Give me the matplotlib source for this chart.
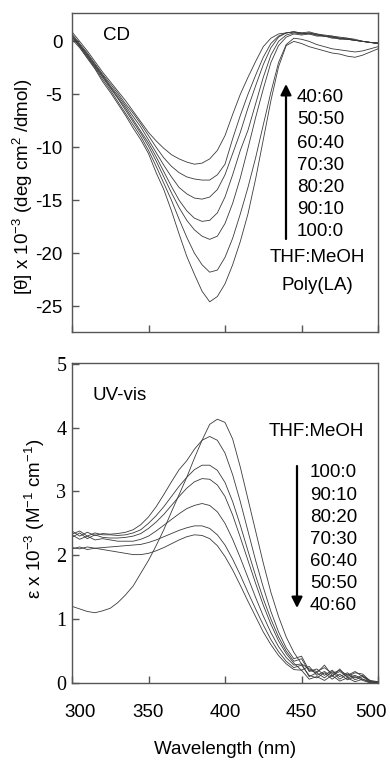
import matplotlib
matplotlib.use("Agg")
import matplotlib.pyplot as plt
import matplotlib.transforms as mtransforms

plt.rcParams['font.family'] = ['Liberation Sans', 'DejaVu Sans']
plt.rcParams['mathtext.fontset'] = 'custom'
plt.rcParams['mathtext.rm'] = 'Liberation Sans'
plt.rcParams['mathtext.it'] = 'Liberation Sans:italic'

# ---------------- data ----------------
wavelength = [300, 305, 310, 315, 320, 325, 330, 335, 340, 345, 350, 355, 360, 365, 370,
              375, 380, 385, 390, 395, 400, 405, 410, 415, 420, 425, 430, 435, 440, 445,
              450, 455, 460, 465, 470, 475, 480, 485, 490, 495, 500]

ratios = ["100:0", "90:10", "80:20", "70:30", "60:40", "50:50", "40:60"]

cd_100_0 = [0.2, -0.6, -1.6, -2.6, -3.8, -4.8, -5.9, -7.0, -8.2, -9.3,
            -10.6, -12.4, -14.0, -16.0, -18.2, -20.3, -22.0, -23.6, -24.6, -24.1,
            -22.9, -21.1, -18.9, -16.3, -13.0, -9.3, -5.6, -2.4, -0.4, 0.0,
            -0.2, -0.5, -0.7, -0.9, -1.1, -1.2, -1.4, -1.5, -1.3, -1.0, -0.7]
cd_90_10 = [0.4, -0.5, -1.5, -2.5, -3.6, -4.6, -5.7, -6.8, -7.9, -9.0,
            -10.3, -11.8, -13.4, -15.0, -16.8, -18.5, -20.0, -21.1, -21.8, -21.6,
            -20.4, -18.6, -16.3, -13.8, -11.0, -7.9, -4.8, -2.0, -0.3, 0.3,
            0.2, 0.0, -0.3, -0.5, -0.7, -0.8, -0.9, -1.0, -0.9, -0.7, -0.5]
cd_80_20 = [0.5, -0.4, -1.4, -2.4, -3.4, -4.4, -5.4, -6.5, -7.6, -8.7,
            -9.9, -11.3, -12.8, -14.3, -15.7, -16.9, -17.8, -18.4, -18.7, -18.4,
            -17.2, -15.3, -12.9, -10.1, -7.2, -4.5, -2.0, -0.4, 0.4, 0.7,
            0.6, 0.7, 0.5, 0.5, 0.4, 0.2, 0.2, 0.1, 0.0, -0.1, -0.2]
cd_70_30 = [0.4, -0.4, -1.3, -2.3, -3.3, -4.3, -5.3, -6.3, -7.4, -8.5,
            -9.6, -10.9, -12.3, -13.7, -15.0, -16.0, -16.7, -17.0, -16.9, -16.2,
            -14.7, -12.6, -10.3, -8.4, -5.9, -3.4, -1.3, 0.0, 0.6, 0.8,
            0.7, 0.8, 0.6, 0.5, 0.3, 0.3, 0.2, 0.1, 0.0, -0.1, -0.2]
cd_60_40 = [0.6, -0.3, -1.2, -2.2, -3.2, -4.2, -5.1, -6.1, -7.1, -8.1,
            -9.3, -10.5, -11.7, -12.8, -13.8, -14.4, -14.8, -14.9, -14.7, -14.0,
            -12.6, -10.6, -8.6, -6.3, -4.2, -2.2, -0.6, 0.4, 0.8, 0.9,
            0.7, 0.8, 0.6, 0.5, 0.5, 0.3, 0.2, 0.1, 0.0, -0.1, -0.2]
cd_50_50 = [0.7, -0.2, -1.1, -2.1, -3.1, -4.0, -4.9, -5.9, -6.8, -7.8,
            -8.9, -10.0, -11.0, -11.8, -12.4, -12.8, -13.0, -13.1, -13.1, -12.6,
            -11.6, -9.2, -7.0, -5.0, -3.2, -1.5, -0.2, 0.5, 0.8, 0.9,
            0.8, 0.7, 0.7, 0.5, 0.4, 0.3, 0.3, 0.1, 0.0, -0.1, -0.1]
cd_40_60 = [0.9, 0.0, -0.9, -1.9, -2.9, -3.8, -4.7, -5.6, -6.6, -7.6,
            -8.6, -9.4, -10.1, -10.7, -11.1, -11.4, -11.6, -11.5, -11.1, -10.3,
            -8.9, -6.9, -5.0, -3.4, -1.9, -0.5, 0.3, 0.7, 0.8, 0.9,
            0.8, 0.9, 0.7, 0.6, 0.5, 0.4, 0.3, 0.2, 0.0, -0.1, -0.2]

uv_100_0 = [1.20, 1.16, 1.12, 1.10, 1.13, 1.17, 1.26, 1.38, 1.52, 1.72,
            1.92, 2.15, 2.40, 2.68, 2.95, 3.22, 3.52, 3.80, 4.05, 4.13,
            4.08, 3.82, 3.38, 2.88, 2.38, 1.88, 1.42, 1.04, 0.72, 0.48,
            0.30, 0.22, 0.18, 0.24, 0.15, 0.20, 0.12, 0.18, 0.10, 0.04, 0.02]
uv_90_10 = [2.38, 2.30, 2.36, 2.31, 2.34, 2.33, 2.34, 2.36, 2.40, 2.48,
            2.60, 2.76, 2.95, 3.15, 3.34, 3.48, 3.66, 3.80, 3.86, 3.80,
            3.60, 3.26, 2.84, 2.38, 1.92, 1.50, 1.12, 0.80, 0.55, 0.38,
            0.42, 0.20, 0.16, 0.28, 0.12, 0.18, 0.10, 0.16, 0.14, 0.03, 0.02]
uv_80_20 = [2.33, 2.38, 2.30, 2.35, 2.32, 2.32, 2.31, 2.32, 2.35, 2.40,
            2.50, 2.62, 2.76, 2.92, 3.08, 3.22, 3.34, 3.41, 3.41, 3.33,
            3.14, 2.84, 2.47, 2.07, 1.68, 1.32, 1.00, 0.72, 0.50, 0.34,
            0.38, 0.18, 0.22, 0.12, 0.20, 0.10, 0.16, 0.08, 0.12, 0.02, 0.01]
uv_70_30 = [2.28, 2.35, 2.26, 2.32, 2.28, 2.27, 2.27, 2.28, 2.30, 2.34,
            2.42, 2.52, 2.64, 2.78, 2.92, 3.05, 3.15, 3.20, 3.19, 3.10,
            2.92, 2.63, 2.28, 1.92, 1.56, 1.22, 0.92, 0.66, 0.46, 0.31,
            0.20, 0.26, 0.12, 0.18, 0.10, 0.22, 0.08, 0.12, 0.06, 0.02, 0.00]
uv_60_40 = [2.32, 2.25, 2.30, 2.24, 2.26, 2.24, 2.22, 2.22, 2.22, 2.25,
            2.30, 2.38, 2.47, 2.56, 2.65, 2.73, 2.78, 2.81, 2.78, 2.68,
            2.50, 2.25, 1.96, 1.65, 1.34, 1.05, 0.79, 0.57, 0.40, 0.28,
            0.30, 0.10, 0.16, 0.08, 0.18, 0.06, 0.14, 0.05, 0.10, 0.01, 0.00]
uv_50_50 = [2.12, 2.10, 2.13, 2.11, 2.12, 2.13, 2.14, 2.15, 2.16, 2.17,
            2.20, 2.24, 2.29, 2.34, 2.39, 2.43, 2.46, 2.46, 2.42, 2.32,
            2.16, 1.94, 1.69, 1.42, 1.16, 0.91, 0.68, 0.49, 0.34, 0.24,
            0.28, 0.12, 0.08, 0.16, 0.06, 0.14, 0.05, 0.10, 0.04, 0.00, 0.00]
uv_40_60 = [2.10, 2.13, 2.09, 2.11, 2.09, 2.07, 2.05, 2.03, 2.01, 2.01,
            2.03, 2.07, 2.12, 2.18, 2.24, 2.29, 2.32, 2.31, 2.26, 2.15,
            1.98, 1.77, 1.53, 1.28, 1.04, 0.80, 0.60, 0.43, 0.30, 0.21,
            0.20, 0.06, 0.10, 0.04, 0.12, 0.03, 0.08, 0.02, 0.06, 0.00, 0.00]

cd_series = [cd_100_0, cd_90_10, cd_80_20, cd_70_30, cd_60_40, cd_50_50, cd_40_60]
uv_series = [uv_100_0, uv_90_10, uv_80_20, uv_70_30, uv_60_40, uv_50_50, uv_40_60]

cd_yticks = [0, -5, -10, -15, -20, -25]
uv_yticks = [0, 1, 2, 3, 4, 5]
x_ticks = [300, 350, 400, 450, 500]

# ---------------- figure ----------------
W, H = 390, 760
fig = plt.figure(figsize=(W / 100, H / 100), dpi=100)

def fx(px):
    return px / W

def fy(py):
    return 1 - py / H

line_color = '#3a3a3a'
spine_color = '#555555'
fs = 13.5

ax1 = fig.add_axes([fx(72), fy(332), fx(378) - fx(72), fy(13) - fy(332)])
ax2 = fig.add_axes([fx(72), fy(683), fx(378) - fx(72), fy(363) - fy(683)])

for s in cd_series:
    ax1.plot(wavelength, s, color=line_color, lw=0.6)
for s in uv_series:
    ax2.plot(wavelength, s, color=line_color, lw=0.6)

for ax in (ax1, ax2):
    ax.set_xlim(300, 500)
    ax.set_xticks(x_ticks)
    for sp in ax.spines.values():
        sp.set_color(spine_color)
        sp.set_linewidth(1.0)
    ax.tick_params(direction='in', length=5, width=1.0, color=spine_color,
                   labelsize=fs)

ax1.set_ylim(-27.45, 2.68)
ax1.set_yticks(cd_yticks)
ax1.set_yticklabels([str(v) for v in cd_yticks])
ax1.tick_params(axis='x', labelbottom=False)
ax1.tick_params(axis='y', pad=7)

ax2.set_ylim(0, 5.01)
ax2.set_yticks(uv_yticks)
ax2.set_yticklabels([str(v) for v in uv_yticks], fontfamily='Liberation Serif')
ax2.tick_params(axis='y', pad=4, labelsize=fs + 1)
ax2.tick_params(axis='x', pad=15)
ax2.set_xticklabels([str(v) for v in x_ticks])
# nudge the end labels inward as in the reference
xlabels = ax2.get_xticklabels()
xlabels[0].set_transform(xlabels[0].get_transform() +
                         mtransforms.ScaledTranslation(8 / 100, 0, fig.dpi_scale_trans))
xlabels[-1].set_transform(xlabels[-1].get_transform() +
                          mtransforms.ScaledTranslation(-7 / 100, 0, fig.dpi_scale_trans))

fig.text(fx(23), fy(187), r'[θ] x 10$^{-3}$ (deg cm$^{2}$ /dmol)', rotation=90,
         ha='center', va='center', fontsize=fs)
fig.text(fx(35), fy(519), r'ε x 10$^{-3}$ (M$^{-1}$ cm$^{-1}$)', rotation=90,
         ha='center', va='center', fontsize=fs)
fig.text(fx(225), fy(750), 'Wavelength (nm)', ha='center', va='center', fontsize=fs)

# top panel annotations
fig.text(fx(103), fy(35), 'CD', ha='left', va='center', fontsize=fs)
top_y = [98, 120, 143, 165, 187, 209, 231]
for lab, yy in zip(ratios[::-1], top_y):
    fig.text(fx(297), fy(yy), lab, ha='left', va='center', fontsize=fs)
fig.text(fx(317), fy(257), 'THF:MeOH', ha='center', va='center', fontsize=fs)
fig.text(fx(317), fy(286), 'Poly(LA)', ha='center', va='center', fontsize=fs)
ax1.annotate('', xy=(fx(286), fy(84)), xytext=(fx(286), fy(239)),
             xycoords='figure fraction', textcoords='figure fraction',
             arrowprops=dict(arrowstyle='-|>', lw=1.6, color='black',
                             mutation_scale=16, shrinkA=0, shrinkB=0))

# bottom panel annotations
fig.text(fx(92), fy(395), 'UV-vis', ha='left', va='center', fontsize=fs)
fig.text(fx(316), fy(432), 'THF:MeOH', ha='center', va='center', fontsize=fs)
bot_y = [472, 495, 517, 539, 562, 583, 606]
for lab, yy in zip(ratios, bot_y):
    fig.text(fx(310), fy(yy), lab, ha='left', va='center', fontsize=fs)
ax2.annotate('', xy=(fx(297), fy(608)), xytext=(fx(297), fy(466)),
             xycoords='figure fraction', textcoords='figure fraction',
             arrowprops=dict(arrowstyle='-|>', lw=1.6, color='black',
                             mutation_scale=16, shrinkA=0, shrinkB=0))

fig.savefig('out.png', dpi=100)
